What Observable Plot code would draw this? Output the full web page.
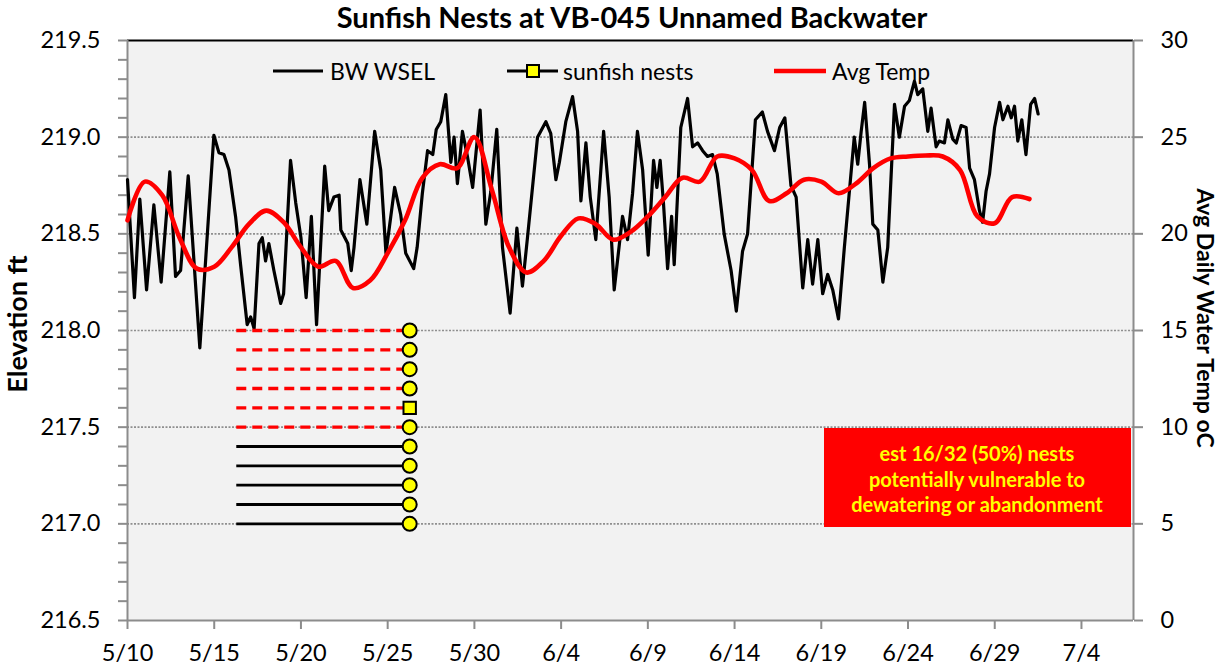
<!DOCTYPE html>
<html><head><meta charset="utf-8">
<script src="https://cdn.jsdelivr.net/npm/d3@7"></script>
<script src="https://cdn.jsdelivr.net/npm/@observablehq/plot@0.6"></script>
<style>
body{margin:0;background:#fff;}
#chart{width:1225px;height:672px;}
</style></head><body><div id="chart"></div>
<script>
const FONT = "Lato, 'Open Sans', sans-serif";
const title = "Sunfish Nests at VB-045 Unnamed Backwater";
const yLabelLeft = "Elevation ft";
const yLabelRight = "Avg Daily Water Temp oC";
const legendLabels = ["BW WSEL", "sunfish nests", "Avg Temp"];
const xTickLabels = ["5/10","5/15","5/20","5/25","5/30","6/4","6/9","6/14","6/19","6/24","6/29","7/4"];
const elevTicks = [216.5, 217.0, 217.5, 218.0, 218.5, 219.0, 219.5];
const tempTicks = [0, 5, 10, 15, 20, 25, 30];
const noteLines = ["est 16/32 (50%) nests", "potentially vulnerable to", "dewatering or abandonment"];

// BW WSEL: days after 5/10 and elevation (ft)
const wselDay = [0,0.4,0.71,1.1,1.52,1.94,2.44,2.77,3.06,3.5,4.17,4.98,5.27,5.56,5.85,6.23,6.52,6.9,7.1,7.3,7.58,7.77,7.96,8.15,8.44,8.83,9.0,9.4,9.7,10.0,10.3,10.6,10.9,11.37,11.6,11.9,12.2,12.3,12.7,12.9,13.06,13.4,13.8,14.25,14.6,14.9,15.4,15.75,16.04,16.5,16.7,17.0,17.3,17.6,17.8,18.06,18.35,18.64,18.83,19.02,19.31,19.6,19.9,20.33,20.66,20.95,21.29,21.62,22.06,22.45,22.77,23.06,23.64,24.12,24.4,24.7,24.9,25.27,25.66,25.95,26.14,26.43,26.68,27.0,27.45,27.77,28.06,28.54,28.83,29.12,29.4,29.7,30.02,30.33,30.52,30.71,30.9,31.14,31.37,31.52,31.9,32.29,32.58,32.87,33.16,33.44,33.73,34.0,34.4,34.8,35.1,35.46,35.75,36.2,36.6,36.9,37.3,37.6,37.9,38.25,38.55,38.93,39.22,39.5,39.8,40.08,40.37,40.66,40.99,41.33,41.62,41.9,42.1,42.3,42.5,42.78,42.97,43.26,43.55,43.83,44.22,44.5,44.8,45.08,45.37,45.56,45.85,46.14,46.33,46.62,46.8,47.1,47.3,47.58,47.78,48.06,48.35,48.55,48.83,49.12,49.3,49.5,49.7,49.99,50.28,50.47,50.76,50.95,51.14,51.33,51.56,51.8,52.07,52.3,52.5];
const wselFt = [218.78,218.17,218.68,218.21,218.65,218.25,218.82,218.28,218.31,218.80,217.91,219.01,218.92,218.91,218.83,218.59,218.34,218.03,218.07,218.01,218.45,218.48,218.36,218.45,218.31,218.14,218.19,218.88,218.66,218.48,218.17,218.59,218.03,218.85,218.62,218.69,218.70,218.52,218.45,218.31,218.43,218.78,218.55,219.03,218.83,218.40,218.74,218.60,218.40,218.32,218.43,218.71,218.93,218.91,219.04,219.08,219.22,218.87,219.0,218.76,219.03,218.9,218.74,219.14,218.55,218.72,219.04,218.43,218.09,218.53,218.23,218.48,219.0,219.08,219.02,218.78,218.87,219.08,219.21,219.03,218.67,218.97,218.69,218.47,219.03,218.69,218.21,218.59,218.47,218.71,219.03,218.83,218.39,218.88,218.74,218.88,218.66,218.32,218.59,218.34,219.05,219.2,218.95,218.97,218.93,218.9,218.91,218.81,218.5,218.31,218.1,218.41,218.5,219.09,219.13,219.03,218.93,219.05,219.1,218.75,218.69,218.22,218.47,218.24,218.47,218.19,218.29,218.21,218.06,218.43,218.72,219.0,218.86,219.03,219.18,218.86,218.55,218.52,218.25,218.43,219.17,219.0,219.16,219.19,219.29,219.22,219.25,219.03,219.15,218.95,218.98,218.97,219.09,218.99,218.97,219.06,219.05,218.84,218.78,218.62,218.56,218.72,218.81,219.05,219.18,219.09,219.16,219.1,219.16,218.98,219.09,218.91,219.17,219.2,219.12];

// Avg daily water temp (°C), one value per day from 5/10
const tempDay = d3.range(0, 53);
const tempC = [20.7,22.7,22.0,19.8,18.2,18.3,19.3,20.5,21.2,20.6,19.3,18.3,18.6,17.2,17.6,19.0,20.7,22.9,23.6,23.4,25.0,22.3,19.3,18.0,18.6,19.9,20.8,20.5,19.7,20.1,20.9,21.9,22.9,22.7,24.0,23.9,23.3,21.7,22.1,22.8,22.7,22.1,22.6,23.4,23.9,24.0,24.05,24.0,23.3,20.9,20.55,21.9,21.8];

// Sunfish nests: elevation (ft), start / end day after 5/10
const nestFt = [218.0, 217.9, 217.8, 217.7, 217.6, 217.5, 217.4, 217.3, 217.2, 217.1, 217.0];
const nestVulnerable = [true, true, true, true, true, true, false, false, false, false, false];
const nestSymbol = ["circle","circle","circle","circle","square","circle","circle","circle","circle","circle","circle"];
const nestStartDay = 6.3;
const nestEndDay = 16.27;

const base = Date.UTC(2013, 4, 10);
const dayToDate = d => new Date(base + d * 864e5);
const parseTick = s => { const [m, d] = s.split("/").map(Number); return new Date(Date.UTC(2013, m - 1, d)); };
const xTicks = xTickLabels.map(parseTick);
const fmtTick = d => `${d.getUTCMonth() + 1}/${d.getUTCDate()}`;
const elevLo = elevTicks[0], elevHi = elevTicks[elevTicks.length - 1];
const tempLo = tempTicks[0], tempHi = tempTicks[tempTicks.length - 1];
const tempToElev = t => elevLo + (t - tempLo) * (elevHi - elevLo) / (tempHi - tempLo);
const elevToTemp = e => tempLo + (e - elevLo) * (tempHi - tempLo) / (elevHi - elevLo);
const minorTicks = d3.range(0, 31).map(i => elevLo + i * 0.1);

const wsel = wselDay.map((d, i) => ({date: dayToDate(d), ft: wselFt[i]}));
const temp = tempDay.map((d, i) => ({date: dayToDate(d), ft: tempToElev(tempC[i])}));
const nests = nestFt.map((f, i) => ({ft: f, x1: dayToDate(nestStartDay), x2: dayToDate(nestEndDay), vuln: nestVulnerable[i], sym: nestSymbol[i]}));

const xDomain = [dayToDate(0), dayToDate(58)];
const axisGray = "#8c8c8c";

const plot = Plot.plot({
  width: 1225, height: 672,
  marginLeft: 127, marginRight: 92, marginTop: 40, marginBottom: 52,
  x: {type: "utc", domain: xDomain, label: null},
  y: {domain: [elevLo, elevHi], label: null},
  style: {fontFamily: FONT, fontSize: "23.5px", color: "black", background: "white", overflow: "visible"},
  marks: [
    Plot.frame({fill: "#f2f2f2", stroke: null}),
    Plot.ruleY(elevTicks.slice(1, -1), {stroke: "#8f8f8f", strokeWidth: 1.6, strokeDasharray: "2,1.5"}),
    Plot.ruleY([elevHi], {stroke: "black", strokeWidth: 2}),
    Plot.ruleX([xDomain[0]], {stroke: axisGray, strokeWidth: 2}),
    Plot.ruleX([xDomain[1]], {stroke: axisGray, strokeWidth: 2}),
    Plot.ruleY([elevLo], {stroke: axisGray, strokeWidth: 2}),
    Plot.axisY(minorTicks, {anchor: "left", tickSize: 9, stroke: axisGray, strokeWidth: 2, fill: "none", label: null}),
    Plot.axisY(elevTicks, {anchor: "left", tickSize: 0, tickPadding: 27, tickFormat: d3.format(".1f"), fill: "black", label: null}),
    Plot.axisY(elevTicks, {anchor: "right", tickSize: 9, stroke: axisGray, strokeWidth: 2, fill: "none", label: null}),
    Plot.axisY(elevTicks, {anchor: "right", tickSize: 0, tickPadding: 27, tickFormat: e => String(Math.round(elevToTemp(e))), fill: "black", label: null}),
    Plot.axisX(xTicks, {anchor: "bottom", tickSize: 9, stroke: axisGray, strokeWidth: 2, fill: "none", label: null}),
    Plot.axisX(xTicks, {anchor: "bottom", tickSize: 0, tickPadding: 24, tickFormat: fmtTick, fill: "black", label: null}),
    Plot.line(wsel, {x: "date", y: "ft", stroke: "black", strokeWidth: 3.2, strokeLinejoin: "round"}),
    Plot.ruleY(nests.filter(d => d.vuln), {y: "ft", x1: "x1", x2: "x2", stroke: "#ff0000", strokeWidth: 3.4, strokeDasharray: "10,6"}),
    Plot.ruleY(nests.filter(d => !d.vuln), {y: "ft", x1: "x1", x2: "x2", stroke: "black", strokeWidth: 2.8}),
    Plot.dot(nests.filter(d => d.sym === "circle"), {x: "x2", y: "ft", symbol: "circle", r: 7, fill: "#ffff00", stroke: "black", strokeWidth: 2}),
    Plot.dot(nests.filter(d => d.sym === "square"), {x: "x2", y: "ft", symbol: "square", r: 7, fill: "#ffff00", stroke: "black", strokeWidth: 2}),
    Plot.line(temp, {x: "date", y: "ft", stroke: "#ff0000", strokeWidth: 4.6, curve: "catmull-rom"})
  ]
});

const svg = d3.select(plot);
// Title and axis titles
svg.append("text").attr("x", 632).attr("y", 28).attr("text-anchor", "middle")
  .attr("font-family", FONT).attr("font-size", 29).attr("font-weight", "bold").text(title);
svg.append("text").attr("transform", "translate(16,324) rotate(-90)").attr("text-anchor", "middle")
  .attr("dominant-baseline", "central").attr("font-family", FONT).attr("font-size", 27).attr("font-weight", "bold").text(yLabelLeft);
svg.append("text").attr("transform", "translate(1206,318) rotate(90)").attr("text-anchor", "middle")
  .attr("dominant-baseline", "central").attr("font-family", FONT).attr("font-size", 23).attr("font-weight", "bold").text(yLabelRight);

// Legend
const lg = svg.append("g").attr("font-family", FONT).attr("font-size", 23).attr("text-anchor", "start");
const ly = 71;
lg.append("line").attr("x1", 273).attr("x2", 323).attr("y1", ly).attr("y2", ly).attr("stroke", "black").attr("stroke-width", 3);
lg.append("text").attr("x", 330).attr("y", ly).attr("dominant-baseline", "central").text(legendLabels[0]);
lg.append("line").attr("x1", 507).attr("x2", 558).attr("y1", ly).attr("y2", ly).attr("stroke", "black").attr("stroke-width", 3);
lg.append("rect").attr("x", 527).attr("y", ly - 6).attr("width", 12).attr("height", 12).attr("fill", "#ffff00").attr("stroke", "black").attr("stroke-width", 2);
lg.append("text").attr("x", 563).attr("y", ly).attr("dominant-baseline", "central").text(legendLabels[1]);
lg.append("line").attr("x1", 774).attr("x2", 826).attr("y1", ly).attr("y2", ly).attr("stroke", "#ff0000").attr("stroke-width", 4.6);
lg.append("text").attr("x", 832).attr("y", ly).attr("dominant-baseline", "central").text(legendLabels[2]);

// Annotation box
const ng = svg.append("g").attr("font-family", FONT).attr("font-size", 20).attr("font-weight", "bold");
ng.append("rect").attr("x", 824).attr("y", 428).attr("width", 307).attr("height", 99).attr("fill", "#ff0000");
noteLines.forEach((t, i) => {
  ng.append("text").attr("x", 977).attr("y", 453 + i * 25.5).attr("text-anchor", "middle")
    .attr("dominant-baseline", "central").attr("fill", "#ffff00").text(t);
});

document.getElementById("chart").appendChild(plot);
</script></body></html>
